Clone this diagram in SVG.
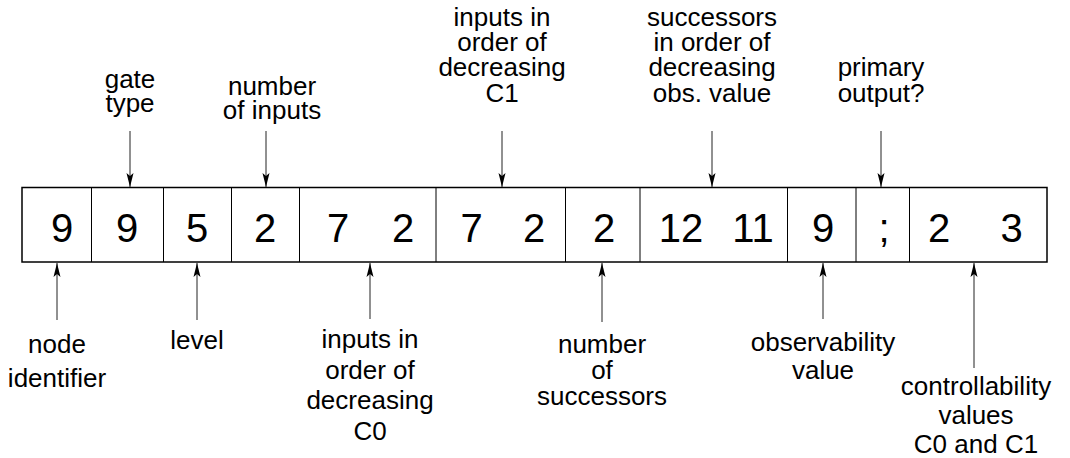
<svg xmlns="http://www.w3.org/2000/svg" width="1070" height="458" viewBox="0 0 1070 458">
<defs>
<marker id="ah" viewBox="0 0 14 8" refX="14" refY="4" markerWidth="14" markerHeight="8" markerUnits="userSpaceOnUse" orient="auto">
<path d="M0,0.5 L14,4 L0,7.5 L3,4 Z" fill="#000"/>
</marker>
<style>
.lbl{font-family:"Liberation Sans",Arial,sans-serif;font-size:26px;fill:#000;text-anchor:middle}
.val{font-family:"Liberation Sans",Arial,sans-serif;font-size:40px;fill:#000;text-anchor:middle}
.div{stroke:#000;stroke-width:1;fill:none}
.conn line{stroke:#222;stroke-width:1;marker-end:url(#ah)}
</style>
</defs>
<rect width="1070" height="458" fill="#fff"/>
<rect x="22" y="187.5" width="1025" height="74.5" fill="none" stroke="#000" stroke-width="1.5"/>
<g id="fields">
<g id="f-node-id"><text class="val" x="62" y="242">9</text></g>
<g id="f-gate-type"><line class="div" x1="91.5" y1="187.5" x2="91.5" y2="262"/><text class="val" x="127" y="242">9</text></g>
<g id="f-level"><line class="div" x1="163.5" y1="187.5" x2="163.5" y2="262"/><text class="val" x="197" y="242">5</text></g>
<g id="f-num-inputs"><line class="div" x1="231.5" y1="187.5" x2="231.5" y2="262"/><text class="val" x="265" y="242">2</text></g>
<g id="f-inputs-c0"><line class="div" x1="299.5" y1="187.5" x2="299.5" y2="262"/><text class="val" x="338" y="242">7</text><text class="val" x="403" y="242">2</text></g>
<g id="f-inputs-c1"><line class="div" x1="436" y1="187.5" x2="436" y2="262"/><text class="val" x="471.5" y="242">7</text><text class="val" x="534" y="242">2</text></g>
<g id="f-num-succ"><line class="div" x1="565.5" y1="187.5" x2="565.5" y2="262"/><text class="val" x="604" y="242">2</text></g>
<g id="f-successors"><line class="div" x1="640" y1="187.5" x2="640" y2="262"/><text class="val" x="681" y="242">12</text><text class="val" x="753" y="242">11</text></g>
<g id="f-obs"><line class="div" x1="787.5" y1="187.5" x2="787.5" y2="262"/><text class="val" x="823" y="242">9</text></g>
<g id="f-po"><line class="div" x1="856" y1="187.5" x2="856" y2="262"/><text class="val" x="884" y="242">;</text></g>
<g id="f-ctrl"><line class="div" x1="909.5" y1="187.5" x2="909.5" y2="262"/><text class="val" x="939" y="242">2</text><text class="val" x="1011.5" y="242">3</text></g>
</g>
<g id="connectors" class="conn">
<line x1="130" y1="131" x2="130" y2="187"/>
<line x1="266" y1="131" x2="266" y2="187"/>
<line x1="502" y1="131" x2="502" y2="187"/>
<line x1="712" y1="131" x2="712" y2="187"/>
<line x1="881" y1="131" x2="881" y2="187"/>
<line x1="57" y1="320" x2="57" y2="263"/>
<line x1="197" y1="320" x2="197" y2="263"/>
<line x1="370" y1="319" x2="370" y2="263"/>
<line x1="602" y1="322" x2="602" y2="263"/>
<line x1="823" y1="319" x2="823" y2="263"/>
<line x1="974" y1="368" x2="974" y2="263"/>
</g>
<g id="labels">
<g id="l-gate-type"><text class="lbl" x="130" y="88">gate</text><text class="lbl" x="130" y="112">type</text></g>
<g id="l-num-inputs"><text class="lbl" x="272" y="95">number</text><text class="lbl" x="272" y="119">of inputs</text></g>
<g id="l-inputs-c1"><text class="lbl" x="502" y="26">inputs in</text><text class="lbl" x="502" y="51">order of</text><text class="lbl" x="502" y="76">decreasing</text><text class="lbl" x="502" y="102">C1</text></g>
<g id="l-successors"><text class="lbl" x="712" y="26">successors</text><text class="lbl" x="712" y="51">in order of</text><text class="lbl" x="712" y="76">decreasing</text><text class="lbl" x="712" y="102">obs. value</text></g>
<g id="l-po"><text class="lbl" x="881" y="76">primary</text><text class="lbl" x="881" y="102">output?</text></g>
<g id="l-node-id"><text class="lbl" x="57" y="353">node</text><text class="lbl" x="57" y="387">identifier</text></g>
<g id="l-level"><text class="lbl" x="197" y="349">level</text></g>
<g id="l-inputs-c0"><text class="lbl" x="370" y="348">inputs in</text><text class="lbl" x="370" y="379">order of</text><text class="lbl" x="370" y="409">decreasing</text><text class="lbl" x="370" y="440">C0</text></g>
<g id="l-num-succ"><text class="lbl" x="602" y="353">number</text><text class="lbl" x="602" y="379">of</text><text class="lbl" x="602" y="405">successors</text></g>
<g id="l-obs"><text class="lbl" x="823" y="351">observability</text><text class="lbl" x="823" y="379">value</text></g>
<g id="l-ctrl"><text class="lbl" x="976" y="395">controllability</text><text class="lbl" x="976" y="424">values</text><text class="lbl" x="976" y="453">C0 and C1</text></g>
</g>
</svg>
